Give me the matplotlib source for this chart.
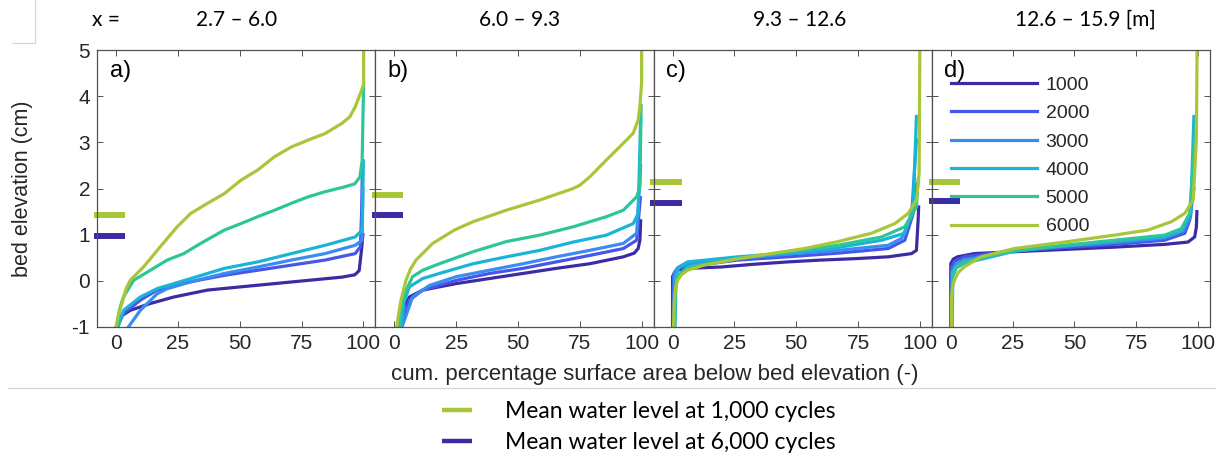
import numpy as np
import matplotlib
matplotlib.use("Agg")
import matplotlib.pyplot as plt
from matplotlib.lines import Line2D

# cycles shown in every panel
cycles = ["1000", "2000", "3000", "4000", "5000", "6000"]
colors = ["#3b2ca4", "#4756ea", "#3b8cf2", "#1ab5d6", "#2ec59a", "#a8c63a"]

panel_names = ["a)", "b)", "c)", "d)"]
x_ranges = ["2.7 \u2013 6.0", "6.0 \u2013 9.3", "9.3 \u2013 12.6", "12.6 \u2013 15.9 [m]"]

# mean water level (cm) per panel
wl_1000 = [1.43, 1.86, 2.14, 2.14]
wl_6000 = [0.97, 1.43, 1.69, 1.73]

# cum. percentage (x) and bed elevation (y), one list per cycle
a_x = [[0, 1.6, 5.7, 13.9, 23.4, 37, 50.5, 64.1, 77.7, 91.3, 96.5, 98.3, 99.3, 99.8],
       [0.5, 3, 9.8, 16.6, 30.2, 43.8, 57.3, 70.9, 84.5, 96.7, 98.8, 99.3, 99.6],
       [5, 9.8, 16.6, 20.7, 30.2, 43.8, 57.3, 70.9, 84.5, 96.7, 99.5, 99.8],
       [0.8, 3, 9.8, 16.6, 23.4, 30.2, 37, 43.8, 57.3, 70.9, 84.5, 96.7, 99.5, 100],
       [0.3, 1.5, 3, 7.1, 13.9, 20.7, 27.4, 34.2, 43.8, 50.5, 57.3, 64.1, 70.9, 77.7, 84.5, 92.7, 96.5, 98.6, 99.5, 100.1],
       [0, 1, 2.3, 4, 5.7, 11.1, 17.9, 24.7, 30.2, 37, 43.8, 50.5, 57.3, 64.1, 70.9, 77.7, 84.5, 91.3, 94.5, 96.7, 98.8, 100.1, 100.1]]
a_y = [[-1, -0.78, -0.64, -0.49, -0.35, -0.2, -0.13, -0.06, 0.01, 0.08, 0.13, 0.22, 0.7, 1.0],
       [-1, -0.71, -0.42, -0.2, -0.02, 0.12, 0.23, 0.34, 0.45, 0.59, 0.74, 1.5, 2.45],
       [-1, -0.64, -0.28, -0.17, -0.02, 0.16, 0.3, 0.45, 0.59, 0.77, 0.88, 2.0],
       [-1, -0.64, -0.35, -0.17, -0.06, 0.05, 0.16, 0.27, 0.41, 0.59, 0.77, 0.95, 1.1, 2.6],
       [-1, -0.6, -0.35, 0.01, 0.23, 0.45, 0.59, 0.81, 1.1, 1.24, 1.39, 1.53, 1.68, 1.82, 1.93, 2.04, 2.1, 2.25, 2.6, 4.3],
       [-1, -0.72, -0.5, -0.18, 0.01, 0.3, 0.74, 1.17, 1.46, 1.68, 1.89, 2.18, 2.4, 2.69, 2.9, 3.05, 3.19, 3.41, 3.55, 3.77, 4.06, 4.25, 5.2]]

b_x = [[2, 4, 6.1, 11.5, 25, 38.5, 52, 65.5, 79, 92.6, 97, 98.6, 99.3, 99.6],
       [2.7, 6.1, 11.5, 25, 38.5, 52, 65.5, 79, 92.6, 98, 99.5],
       [3.1, 7.4, 14.2, 25, 38.5, 52, 65.5, 79, 92.6, 98, 99.6],
       [2.7, 4, 6.1, 11.5, 18.2, 31.8, 45.3, 58.8, 72.3, 85.8, 96.6, 98.6, 99.6],
       [2, 2.9, 4.1, 7.4, 11.5, 18.2, 31.8, 45.3, 58.8, 72.3, 85.8, 92.6, 98, 99.3, 99.8],
       [1, 1.8, 2.7, 4.7, 6.5, 8.8, 15.5, 24.3, 31.8, 45.3, 58.8, 72.3, 75, 79, 85.8, 92.6, 96.6, 98.6, 99.3, 100, 100]]
b_y = [[-1, -0.55, -0.35, -0.2, -0.06, 0.05, 0.16, 0.27, 0.37, 0.52, 0.6, 0.7, 0.88, 1.3],
       [-1, -0.42, -0.2, 0.01, 0.16, 0.27, 0.41, 0.55, 0.7, 0.88, 1.8],
       [-1, -0.35, -0.1, 0.09, 0.23, 0.37, 0.52, 0.66, 0.81, 1.03, 2.5],
       [-1, -0.45, -0.13, 0.05, 0.16, 0.37, 0.52, 0.66, 0.84, 0.99, 1.24, 1.46, 3.5],
       [-1, -0.6, -0.28, 0.09, 0.23, 0.37, 0.63, 0.85, 0.99, 1.17, 1.39, 1.53, 1.82, 2.04, 3.8],
       [-1, -0.7, -0.42, 0.01, 0.25, 0.45, 0.81, 1.1, 1.28, 1.53, 1.75, 2, 2.07, 2.25, 2.62, 2.98, 3.2, 3.48, 3.77, 4.3, 5.2]]

c_x = [[0, 0, 0.8, 2, 6.1, 19.6, 33.1, 46.6, 60.1, 73.6, 87.2, 96.6, 98.6, 99.3, 99.5],
       [0.2, 0.4, 1.5, 4.7, 26.4, 46.6, 66.9, 87.2, 93.9, 97.3, 98.8],
       [0.5, 0.7, 2, 6.1, 26.4, 46.6, 66.9, 87.2, 92.6, 96.6, 98.6],
       [1, 1.4, 2.5, 6.1, 26.4, 46.6, 66.9, 84.5, 93.9, 97.3, 98.6],
       [0.8, 1.2, 2, 6.1, 26.4, 46.6, 66.9, 84.5, 93.9, 98.6, 99.3],
       [0.4, 0.7, 1.2, 2, 3.8, 6.1, 12.8, 26.4, 39.9, 53.4, 66.9, 80.4, 89.9, 95.3, 98.6, 99.7, 100]]
c_y = [[-1, 0.09, 0.18, 0.23, 0.27, 0.3, 0.36, 0.41, 0.45, 0.48, 0.52, 0.59, 0.66, 1.32, 1.6],
       [-1, 0.12, 0.24, 0.3, 0.45, 0.52, 0.6, 0.7, 0.88, 1.46, 2.1],
       [-1, 0.12, 0.28, 0.37, 0.48, 0.58, 0.66, 0.77, 0.92, 1.39, 3.05],
       [-1, 0.1, 0.3, 0.41, 0.52, 0.6, 0.72, 0.88, 1.03, 1.6, 3.56],
       [-1, -0.2, 0.1, 0.3, 0.48, 0.63, 0.77, 0.95, 1.17, 1.6, 2.2],
       [-1, -0.42, -0.15, 0.01, 0.14, 0.23, 0.34, 0.48, 0.59, 0.7, 0.85, 1.03, 1.24, 1.46, 1.75, 2.33, 5.2]]

d_x = [[0, 0, 1, 2.7, 9.5, 25.7, 46, 66.2, 86.5, 95.9, 98.6, 99.3, 99.5],
       [0.2, 0.3, 1.5, 5.4, 25.7, 46, 66.2, 86.5, 94.6, 96.6, 98.3],
       [0.4, 0.6, 2, 5.4, 25.7, 46, 66.2, 86.5, 94, 97, 98.4],
       [0.6, 0.8, 2.2, 5.4, 25.7, 46, 66.2, 86.5, 93.5, 97, 98.3],
       [0.5, 0.7, 2, 5.4, 25.7, 46, 66.2, 86.5, 93.2, 96.6, 98.6, 99.2],
       [0.3, 0.3, 0.7, 1.4, 3, 5.4, 12.2, 25.7, 46, 66.2, 79.7, 89.2, 94.6, 98, 99.3, 99.6]]
d_y = [[-1, 0.37, 0.47, 0.52, 0.59, 0.63, 0.68, 0.73, 0.79, 0.84, 0.95, 1.17, 1.5],
       [-1, 0.3, 0.42, 0.52, 0.65, 0.72, 0.79, 0.88, 1.03, 1.32, 2.0],
       [-1, 0.2, 0.36, 0.45, 0.66, 0.75, 0.83, 0.93, 1.08, 1.4, 3.0],
       [-1, 0.1, 0.28, 0.38, 0.64, 0.76, 0.86, 0.96, 1.1, 1.5, 3.56],
       [-1, 0.16, 0.3, 0.41, 0.66, 0.77, 0.88, 0.99, 1.13, 1.46, 3.05, 3.3],
       [-1, -0.35, -0.15, 0.01, 0.18, 0.3, 0.52, 0.7, 0.84, 0.99, 1.1, 1.28, 1.46, 1.75, 3.05, 5.2]]

xs = [a_x, b_x, c_x, d_x]
ys = [a_y, b_y, c_y, d_y]

plt.rcParams['font.family'] = 'sans-serif'
plt.rcParams['font.sans-serif'] = ['Liberation Sans']
plt.rcParams['axes.unicode_minus'] = False
fig = plt.figure(figsize=(12.16, 4.61), dpi=100)

left = 97 / 1216
w = (1210 - 97) / 1216 / 4
bottom = 1 - 327 / 461
h = (327 - 50) / 461
spine_col = '#505050'
txt_col = '#262626'

axes = []
for i in range(4):
    ax = fig.add_axes([left + i * w, bottom, w, h])
    axes.append(ax)
    for k in range(6):
        ax.plot(xs[i][k], ys[i][k], color=colors[k], lw=2.3, label=cycles[k],
                solid_joinstyle='round')
    # water level markers
    ax.plot([-9, 3.7], [wl_1000[i], wl_1000[i]], color=colors[5], lw=4.3,
            solid_capstyle='butt', clip_on=False)
    ax.plot([-9, 3.7], [wl_6000[i], wl_6000[i]], color=colors[0], lw=4.3,
            solid_capstyle='butt', clip_on=False)
    ax.set_xlim(-7.7, 104.8)
    ax.set_ylim(-1, 5)
    ax.set_xticks([0, 25, 50, 75, 100])
    ax.set_yticks(range(-1, 6))
    ax.tick_params(direction='in', top=True, right=True, length=4, width=0.7,
                   colors=spine_col, labelcolor=txt_col, labelsize=15, pad=5)
    for s in ax.spines.values():
        s.set_color(spine_col)
        s.set_linewidth(0.9)
    if i > 0:
        ax.tick_params(labelleft=False)
    ax.text(0.045, 0.965, panel_names[i], transform=ax.transAxes, fontsize=17,
            ha='left', va='top', color='black')

axes[0].set_ylabel('bed elevation (cm)', fontsize=15.5, color=txt_col)
axes[0].yaxis.set_label_coords(-0.23, 0.5)

leg = axes[3].legend(loc='upper left', bbox_to_anchor=(0.07, 0.905), frameon=False,
                     fontsize=14, handlelength=4.4, handletextpad=0.45,
                     labelspacing=0.55, borderpad=0, borderaxespad=0)
for t in leg.get_texts():
    t.set_color(txt_col)

fig.text(655 / 1216, 1 - 374 / 461, 'cum. percentage surface area below bed elevation (-)',
         ha='center', va='center', fontsize=16, color=txt_col)

# header with x ranges
fig.text(106 / 1216, 1 - 20 / 461, 'x =', ha='center', va='center',
         fontsize=15, family='Lato')
centers = [237, 520, 800, 1085]
for c, lab in zip(centers, x_ranges):
    fig.text(c / 1216, 1 - 20 / 461, lab, ha='center', va='center',
             fontsize=15, family='Lato')

# faint frame lines from the source layout
fig.add_artist(Line2D([35 / 1216, 35 / 1216], [1, 1 - 43 / 461], color='#d4d4d4', lw=0.8))
fig.add_artist(Line2D([12 / 1216, 35 / 1216], [1 - 43 / 461, 1 - 43 / 461], color='#d4d4d4', lw=0.8))
fig.add_artist(Line2D([8 / 1216, 1], [1 - 388 / 461, 1 - 388 / 461], color='#d4d4d4', lw=0.8))

# bottom legend for water levels
wl_handles = [Line2D([], [], color=colors[5], lw=3.2, solid_capstyle='butt'),
              Line2D([], [], color=colors[0], lw=3.2, solid_capstyle='butt')]
fig.legend(wl_handles, ['Mean water level at 1,000 cycles', 'Mean water level at 6,000 cycles'],
           loc='upper left', bbox_to_anchor=(442 / 1216, 1 - 401 / 461), frameon=False,
           prop={'family': 'Lato', 'size': 16.5}, handlelength=1.3, handletextpad=1.45,
           labelspacing=0.45, borderpad=0, borderaxespad=0)

fig.savefig('out.png', dpi=100)
